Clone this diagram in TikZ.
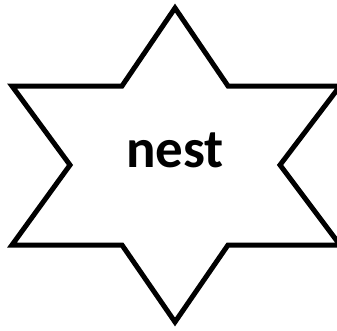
\documentclass[tikz,border=0pt]{standalone}
\usepackage{fontspec}
\setmainfont{Carlito}
\tikzset{starline/.style={draw=black, line width=5pt, fill=white, line join=miter},
  label/.style={font=\bfseries\fontsize{55}{64}\selectfont, inner sep=0pt}}
\begin{document}
\begin{tikzpicture}[x=1pt,y=-1pt]
\useasboundingbox (0,0) rectangle (337,330);
\draw[starline] (175,8) -- (228,86) -- (340,86) -- (280,165) -- (340,245) -- (228,245)
  -- (175,322) -- (122,245) -- (12,245) -- (70,165) -- (12,86) -- (122,86) -- cycle;
\node[label, anchor=base] (t) at (175,167) {nest};
\end{tikzpicture}
\end{document}
